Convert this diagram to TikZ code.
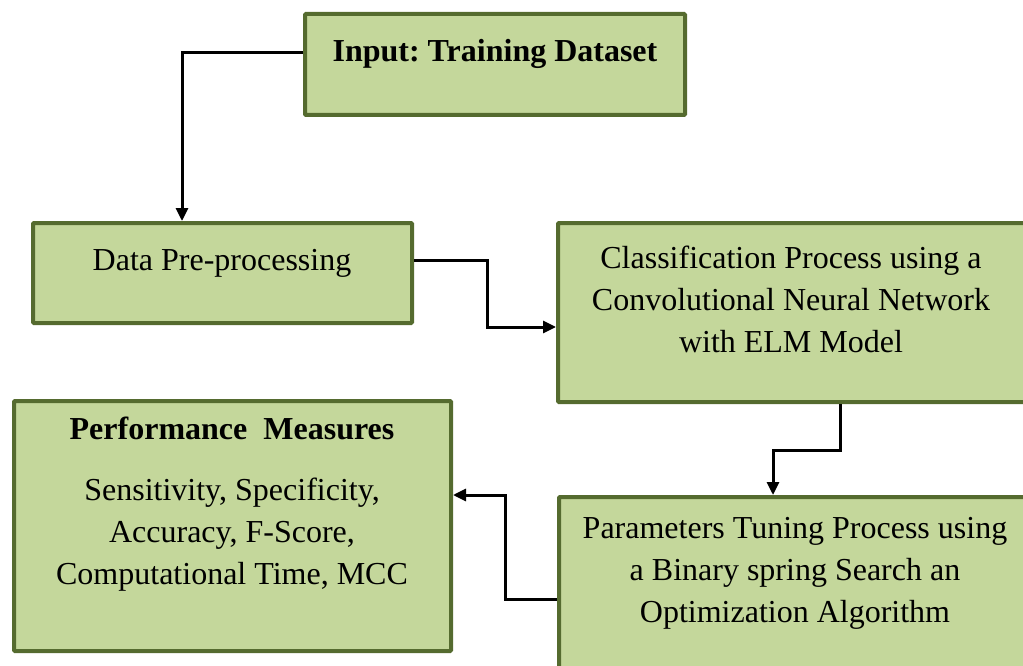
\documentclass[tikz,border=0pt]{standalone}
\usepackage{fontspec}
\setmainfont{Liberation Serif}
\usetikzlibrary{arrows.meta}
\definecolor{boxfill}{RGB}{196,215,155}
\definecolor{boxline}{RGB}{85,107,47}
\tikzset{
  box/.style={draw=boxline, fill=boxfill, line width=4pt, rounded corners=1pt,
    anchor=north west, inner sep=0pt},
  txt/.style={anchor=base, align=center, inner sep=0pt,
    font=\fontsize{32}{42}\selectfont},
  btxt/.style={txt, font=\fontsize{32}{42}\selectfont\bfseries},
  arr/.style={draw=black, line width=3pt, -{Triangle[length=13pt,width=12pt]}}
}
\begin{document}
\begin{tikzpicture}[x=1pt,y=-1pt]
\useasboundingbox (0,0) rectangle (1023,666);
\clip (0,0) rectangle (1023,666);
% boxes
\node[box, minimum width=380pt, minimum height=101pt] (in) at (303,12) {};
\node[box, minimum width=379pt, minimum height=100pt] (pre) at (31,221) {};
\node[box, minimum width=472pt, minimum height=179pt] (cls) at (556,221) {};
\node[box, minimum width=471pt, minimum height=183pt] (par) at (557,495) {};
\node[box, minimum width=437pt, minimum height=250pt] (perf) at (12,399) {};
% texts (multi-line: anchor at baseline of last line)
\node[btxt] (tin) at (495,62) {Input:\ Training\ Dataset};
\node[txt] (tpre) at (222,270) {Data Pre-processing};
\node[txt] (tcls) at (791,352) {Classification Process using a\\Convolutional Neural Network\\with ELM Model};
\node[txt] (tpar) at (795,622) {Parameters Tuning Process using\\a Binary spring Search an\\Optimization Algorithm};
\node[btxt] (tperf) at (232,439) {Performance\ \ Measures};
\node[txt] (tperfb) at (232,584) {Sensitivity, Specificity,\\Accuracy, F-Score,\\Computational Time, MCC};
% bends
\coordinate (c1) at (182,53);
\coordinate (c2) at (487,260);
\coordinate (c3) at (487,327);
\coordinate (c4) at (840,450);
\coordinate (c5) at (773,450);
\coordinate (c6) at (505,599);
\coordinate (c7) at (505,495);
% connectors
\draw[arr] (in.west|-c1) -- (c1) -- (c1|-pre.north);
\draw[arr] (pre.east|-c2) -- (c2) -- (c3) -- (cls.west|-c3);
\draw[arr] (cls.south-|c4) -- (c4) -- (c5) -- (c5|-par.north);
\draw[arr] (par.west|-c6) -- (c6) -- (c7) -- (perf.east|-c7);
\end{tikzpicture}
\end{document}
